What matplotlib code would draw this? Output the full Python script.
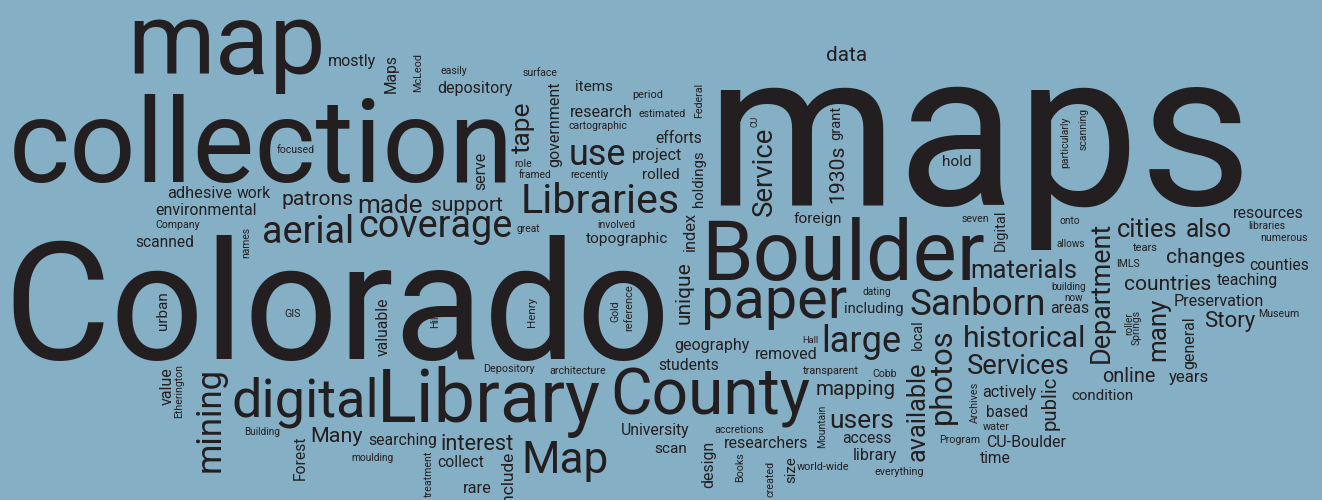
import matplotlib.pyplot as plt

BG = '#85afc5'
INK = '#231f20'

# ── words in the cloud ───────────────────────────────────────────────────────
words_h = ['maps', 'Colorado', 'collection', 'map', 'Boulder', 'Library', 'County',
           'Libraries', 'coverage', 'digital', 'paper', 'Sanborn', 'historical',
           'materials', 'Services', 'Map', 'aerial', 'countries', 'Preservation',
           'researchers', 'topographic', 'CU-Boulder', 'large', 'mapping', 'changes',
           'depository', 'geography', 'interest', 'patrons', 'support', 'resources',
           'searching', 'University', 'made', 'users', 'research', 'removed',
           'condition', 'students', 'cities', 'teaching', 'including', 'counties',
           'scanned', 'cartographic', 'use', 'architecture', 'transparent', 'actively',
           'online', 'Many', 'world-wide', 'Depository', 'Story', 'project', 'accretions',
           'access', 'everything', 'foreign', 'mostly', 'estimated', 'numerous',
           'efforts', 'also', 'collect', 'Company', 'library', 'based', 'moulding',
           'data', 'Program', 'Museum', 'years', 'areas', 'items', 'focused',
           'involved', 'recently', 'rolled', 'libraries', 'Building', 'building',
           'surface', 'framed', 'scan', 'period', 'time', 'hold', 'dating', 'rare',
           'allows', 'seven', 'easily', 'water', 'Cobb', 'tears', 'great', 'IMLS',
           'onto', 'now', 'role', 'GIS', 'Hall', 'adhesive', 'work', 'environmental']

words_v = ['Department', 'mining', 'available', 'photos', 'Service', 'government',
           'many', 'unique', 'valuable', '1930s', 'holdings', 'public', 'Etherington',
           'general', 'include', 'tape', 'particularly', 'design', 'treatment',
           'reference', 'Forest', 'Mountain', 'scanning', 'Digital', 'Archives',
           'urban', 'Maps', 'McLeod', 'index', 'serve', 'value', 'created', 'Federal',
           'Springs', 'grant', 'names', 'local', 'Henry', 'Books', 'size', 'roller',
           'Gold', 'Hill', 'CU']

# ── layout (pixels): centre x, baseline y, width ────────────────────────────
layout_h = [
    (979, 205, 532), (337, 359, 651), (261, 182, 492), (226, 74, 193),
    (843, 280, 277), (489, 422, 218), (710, 415, 195), (600, 213, 155),
    (435, 237, 150), (305, 417, 144), (774, 318, 142), (978, 315, 133),
    (1025, 347, 120), (1024, 278, 104), (1018, 374, 100), (565, 473, 85),
    (308, 243, 90), (1168, 290, 85), (1219, 306, 88), (766, 448, 82),
    (627, 243, 80), (1026, 447, 78), (861, 352, 78), (856, 395, 78),
    (1206, 263, 77), (475, 93, 73), (712, 350, 73), (477, 450, 71),
    (318, 205, 70), (467, 211, 70), (1268, 218, 69), (403, 445, 67),
    (655, 435, 67), (390, 213, 64), (862, 428, 63), (601, 117, 61),
    (786, 359, 61), (1102, 400, 61), (689, 370, 59), (1147, 237, 59),
    (1247, 285, 59), (874, 313, 58), (1279, 270, 58), (165, 247, 57),
    (598, 129, 57), (597, 165, 56), (578, 374, 55), (831, 374, 54),
    (1009, 397, 53), (1129, 382, 52), (337, 442, 51), (823, 470, 51),
    (509, 372, 50), (1230, 327, 50), (657, 160, 49), (739, 433, 48),
    (867, 443, 48), (899, 475, 48), (818, 223, 47), (352, 66, 47),
    (662, 117, 46), (1284, 241, 46), (679, 143, 45), (1209, 237, 45),
    (461, 467, 45), (178, 228, 43), (875, 460, 43), (1007, 417, 41),
    (373, 461, 41), (847, 61, 40), (960, 443, 40), (1279, 317, 40),
    (1189, 382, 39), (1070, 313, 38), (594, 91, 37), (296, 153, 37),
    (616, 228, 37), (589, 178, 37), (661, 179, 37), (1267, 229, 36),
    (262, 435, 35), (1069, 290, 34), (540, 76, 34), (535, 178, 32),
    (671, 453, 32), (648, 98, 30), (995, 463, 30), (957, 166, 29),
    (877, 295, 28), (477, 493, 28), (1071, 247, 28), (975, 222, 27),
    (454, 74, 26), (996, 430, 26), (885, 377, 24), (1145, 251, 24),
    (528, 232, 23), (1128, 267, 23), (1070, 224, 20), (1074, 301, 18),
    (523, 167, 17), (293, 317, 16), (810, 343, 16), (200, 198, 63),
    (254, 198, 33), (206, 215, 98),
]

# vertical words (read bottom to top): baseline x, centre y, length
layout_v = [
    (1109, 292, 137), (220, 419, 102), (925, 411, 97), (951, 376, 93),
    (772, 171, 87), (559, 124, 83), (1165, 329, 62), (690, 293, 61),
    (388, 327, 57), (843, 174, 57), (703, 179, 55), (1056, 403, 53),
    (182, 391, 52), (1194, 343, 51), (513, 478, 54), (530, 127, 50),
    (1068, 142, 50), (713, 464, 46), (432, 474, 45), (632, 308, 45),
    (305, 458, 43), (825, 426, 42), (1087, 129, 41), (1005, 230, 40),
    (978, 402, 40), (167, 311, 38), (396, 74, 38), (421, 72, 38),
    (695, 231, 38), (485, 171, 37), (172, 386, 37), (773, 479, 35),
    (702, 100, 34), (1140, 327, 34), (840, 123, 33), (249, 243, 30),
    (922, 335, 30), (535, 312, 29), (743, 467, 29), (795, 470, 26),
    (1132, 324, 22), (618, 311, 21), (438, 320, 15), (758, 121, 11),
]

FONT = 'Roboto'
BEARING = 1.025   # text box is a bit wider than the ink

fig = plt.figure(figsize=(13.22, 5), dpi=100, facecolor=BG)
ax = fig.add_axes([0, 0, 1, 1])
ax.set_xlim(0, 1322)
ax.set_ylim(500, 0)
ax.axis('off')
renderer = fig.canvas.get_renderer()


def put(word, x, y, span, rot):
    # draw at a test size, then scale the font so the word fills its span
    t = ax.text(x, y, word, fontsize=20, family=FONT, color=INK,
                ha='center', va='baseline', rotation_mode='anchor')
    w = t.get_window_extent(renderer).width
    t.set_fontsize(20 * span * BEARING / w)
    t.set_rotation(rot)


for word, (x, y, span) in zip(words_h, layout_h):
    put(word, x, y, span, 0)

for word, (x, y, span) in zip(words_v, layout_v):
    put(word, x, y, span, 90)

fig.savefig('out.png', dpi=100, facecolor=BG)
